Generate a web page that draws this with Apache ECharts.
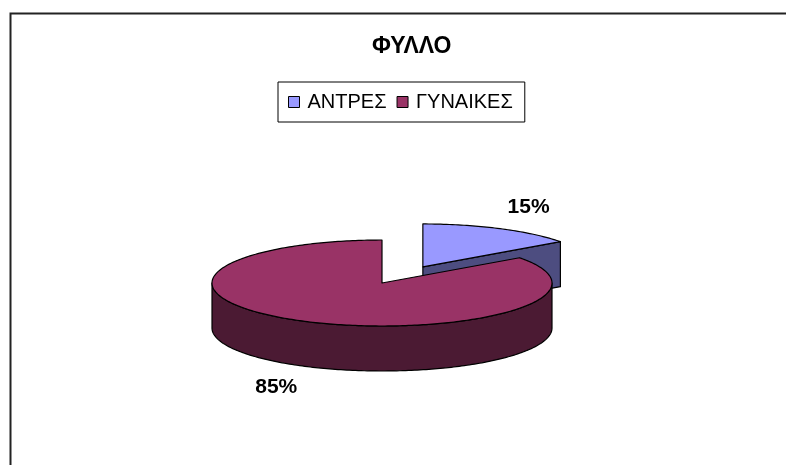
<!DOCTYPE html>
<html>
<head>
<meta charset="utf-8">
<script src="https://cdn.jsdelivr.net/npm/echarts@6/dist/echarts.min.js"></script>
<style>
  html, body { margin: 0; padding: 0; background: #fff; }
  #main { width: 786px; height: 465px; }
</style>
</head>
<body>
<div id="main"></div>
<script>
// data
const categories = ['ΑΝΤΡΕΣ', 'ΓΥΝΑΙΚΕΣ'];
const values = [15, 85];
const topColors = ['#9999ff', '#993366'];
const sideColors = ['#4d4d80', '#4b1a33'];

const total = values.reduce((a, b) => a + b, 0);

// 3d pie geometry
const CX = 382, CY = 283, RX = 170, RY = 43, DEPTH = 45;
const explodeX = 90, explodeY = 18;

function pt(cx, cy, t, dy) {
    return [cx + RX * Math.sin(t), cy - RY * Math.cos(t) + (dy || 0)];
}

function arc(cx, cy, a0, a1, dy) {
    let pts = [];
    let n = Math.max(2, Math.ceil((a1 - a0) / (Math.PI / 180)));
    for (let i = 0; i <= n; i++) {
        pts.push(pt(cx, cy, a0 + (a1 - a0) * i / n, dy));
    }
    return pts;
}

function makeSlice(idx) {
    return function (params, api) {
        let before = 0;
        for (let i = 0; i < idx; i++) before += values[i];
        let a0 = before / total * Math.PI * 2;
        let a1 = (before + values[idx]) / total * Math.PI * 2;
        let mid = (a0 + a1) / 2;
        // the small slice is pulled out
        let cx = CX, cy = CY;
        if (idx === 0) {
            cx += explodeX * Math.sin(mid);
            cy -= explodeY * Math.cos(mid);
        }
        let children = [];
        let stroke = { stroke: '#000', lineWidth: 1.2, lineJoin: 'round' };

        // outer rim (front half only)
        let r0 = Math.max(a0, Math.PI / 2), r1 = Math.min(a1, Math.PI * 1.5);
        if (r1 > r0) {
            let top = arc(cx, cy, r0, r1, 0);
            let bot = arc(cx, cy, r0, r1, DEPTH).reverse();
            children.push({
                type: 'polygon',
                shape: { points: top.concat(bot) },
                style: Object.assign({ fill: sideColors[idx] }, stroke)
            });
        }
        // radial cut faces
        if (Math.sin(a1) > 0.01) {
            let p = pt(cx, cy, a1, 0);
            children.push({
                type: 'polygon',
                shape: { points: [[cx, cy], p, [p[0], p[1] + DEPTH], [cx, cy + DEPTH]] },
                style: Object.assign({ fill: sideColors[idx] }, stroke)
            });
        }
        if (Math.sin(a0) < -0.01) {
            let p = pt(cx, cy, a0, 0);
            children.push({
                type: 'polygon',
                shape: { points: [[cx, cy], p, [p[0], p[1] + DEPTH], [cx, cy + DEPTH]] },
                style: Object.assign({ fill: sideColors[idx] }, stroke)
            });
        }
        // top face
        children.push({
            type: 'polygon',
            shape: { points: [[cx, cy]].concat(arc(cx, cy, a0, a1, 0)) },
            style: Object.assign({ fill: topColors[idx] }, stroke)
        });
        // percent label
        let lx = cx + 1.37 * RX * Math.sin(mid);
        let ly = cy - 1.55 * RY * Math.cos(mid) + (Math.cos(mid) < 0 ? DEPTH : 0);
        children.push({
            type: 'text',
            x: lx, y: ly,
            style: {
                text: Math.round(values[idx] / total * 100) + '%',
                fill: '#000',
                font: 'bold 21px "Liberation Sans", Arial, sans-serif',
                align: 'center',
                verticalAlign: 'middle'
            }
        });
        return { type: 'group', children: children };
    };
}

let chart = echarts.init(document.getElementById('main'));
let option = {
    animation: false,
    backgroundColor: '#fff',
    title: {
        text: 'ΦΥΛΛΟ',
        left: 367,
        top: 30,
        textStyle: {
            fontFamily: '"Liberation Sans", Arial, sans-serif',
            fontWeight: 'bold',
            fontSize: 23,
            color: '#000'
        }
    },
    legend: {
        data: categories,
        left: 278,
        top: 82,
        padding: [10, 12, 10, 10],
        itemGap: 10,
        itemWidth: 11,
        itemHeight: 11,
        icon: 'rect',
        borderColor: '#000',
        borderWidth: 1,
        itemStyle: { borderColor: '#000', borderWidth: 1 },
        textStyle: {
            fontFamily: '"Liberation Sans", Arial, sans-serif',
            fontSize: 20,
            color: '#000',
            padding: [0, 0, 0, 3]
        }
    },
    graphic: [{
        type: 'rect',
        left: 8, top: 11,
        shape: { width: 900, height: 600 },
        style: { fill: 'none', stroke: '#222', lineWidth: 2 },
        silent: true
    }],
    series: categories.map((name, i) => ({
        type: 'custom',
        name: name,
        coordinateSystem: 'none',
        color: topColors[i],
        data: [values[i]],
        renderItem: makeSlice(i)
    }))
};
chart.setOption(option);
</script>
</body>
</html>
